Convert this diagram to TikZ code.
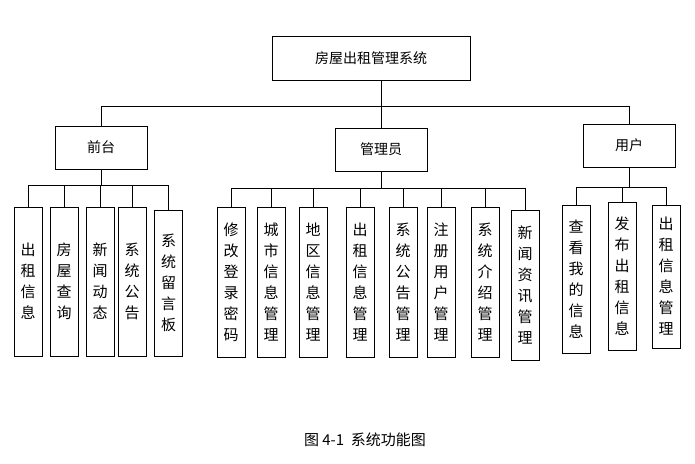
\documentclass[tikz,border=0pt]{standalone}
\usepackage{fontspec}
\setmainfont{Noto Sans CJK SC}
\tikzset{
boxTop/.style={rectangle,minimum height=44pt,minimum width=198pt,draw=black,font=\fontsize{14}{16}\selectfont}
}
\tikzset{
boxMid/.style={rectangle,minimum height=43pt,minimum width=92pt,draw=black,font=\fontsize{14}{16}\selectfont}
}
\tikzset{
boxLeaf/.style={rectangle,minimum width=28pt,inner sep=1pt,text width=16pt,align=center,draw=black,font=\fontsize{15}{21}\selectfont}
}

\begin{document}
\begin{tikzpicture}[x=1pt,y=-1pt,line width=0.9pt]
\useasboundingbox (0,0) rectangle (695,463);

\node[boxTop] (sys) at (371,58) {房屋出租管理系统};
\node[boxMid] (qt) at (101,147.5) {前台};
\node[boxMid] (gly) at (381,149.5) {管理员};
\node[boxMid] (yh) at (629,145.5) {用户};

\draw (sys.south -| gly.north) -- ++(0,26) coordinate (bus);
\draw (qt.north) |- (bus) -| (yh.north);
\draw (bus) -- (gly.north);

%------------------------------------------------------------------------------------------------------------%
\foreach \n/\x/\y/\h/\t in {q1/28/281.5/149/出\\租\\信\\息,q2/64/281.5/149/房\\屋\\查\\询,q3/100/281.5/149/新\\闻\\动\\态,q4/132/281.5/149/系\\统\\公\\告,q5/168.5/283/146/系\\统\\留\\言\\板}
{
\node[boxLeaf,minimum height=\h pt] (\n) at (\x,\y) {\t};
\draw (qt.south) -- ++(0,16) -| (\n.north);
}

\foreach \n/\x/\y/\h/\t in {g1/231/282/150/修\\改\\登\\录\\密\\码,g2/271/282/150/城\\市\\信\\息\\管\\理,g3/313/282/150/地\\区\\信\\息\\管\\理,g4/360/282/150/出\\租\\信\\息\\管\\理,g5/403/282/150/系\\统\\公\\告\\管\\理,g6/441/282/150/注\\册\\用\\户\\管\\理,g7/485/282/150/系\\统\\介\\绍\\管\\理,g8/525/285/150/新\\闻\\资\\讯\\管\\理}
{
\node[boxLeaf,minimum height=\h pt] (\n) at (\x,\y) {\t};
\draw (gly.south) -- ++(0,17) -| (\n.north);
}

\foreach \n/\x/\y/\h/\t in {y1/576/279/148/查\\看\\我\\的\\信\\息,y2/622/276/148/发\\布\\出\\租\\信\\息,y3/666/276.5/143/出\\租\\信\\息\\管\\理}
{
\node[boxLeaf,minimum height=\h pt] (\n) at (\x,\y) {\t};
\draw (yh.south) -- ++(0,20) -| (\n.north);
}

\node[font=\fontsize{15}{17}\selectfont] (cap) at (365,440) {图 4-1\ \ 系统功能图};
\end{tikzpicture}
\end{document}
